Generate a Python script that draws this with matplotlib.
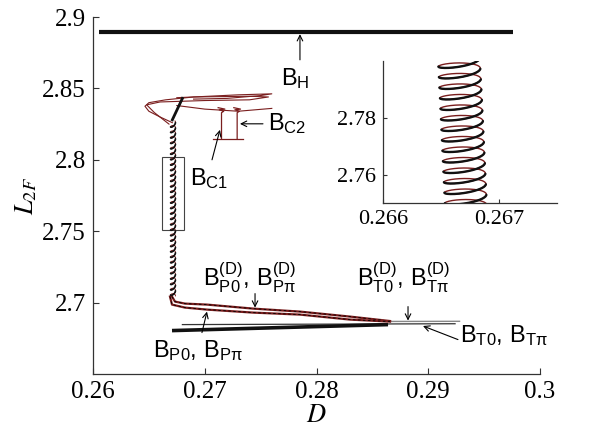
import numpy as np
import matplotlib
matplotlib.use("Agg")
import matplotlib.pyplot as plt
from matplotlib.patches import Rectangle

plt.rcParams['mathtext.fontset'] = 'custom'
plt.rcParams['mathtext.rm'] = 'Liberation Sans'
plt.rcParams['mathtext.it'] = 'Liberation Sans'
plt.rcParams['mathtext.bf'] = 'Liberation Sans:bold'

# ---------------- data ----------------
# B_H branch
BH_D = [0.2605, 0.2976]
BH_L = [2.8895, 2.8895]
# thick black B_P0 / B_Ppi branch
BP_D = [0.26707, 0.2864]
BP_L = [2.6804, 2.6846]
# thin lines B_T0, B_T0^(D)
BT_D = [0.2680, 0.2924]
BT_L = [2.6846, 2.6852]
BTD_D = [0.2866, 0.2928]
BTD_L = [2.6868, 2.6869]
# helix (twisted torus branch) in main panel
helix_L = [2.704, 2.826]
helix_D = [0.26716, 0.26716]
helix_halfwidth = 0.00022
helix_halfheight = 0.0013
helix_tilt = 0.0006
helix_pitch = 0.0038
# helix as seen in inset
inset_helix_L = [2.745, 2.805]
inset_helix_D = [0.26672, 0.26665]
inset_halfwidth = 0.00018
inset_halfheight = 0.0016
inset_tilt = 0.0006
inset_pitch = 0.0037
# tail of the helix (two strands) towards the T branch
tailA_D = [0.26707, 0.26734, 0.26823, 0.27020, 0.27432, 0.27852, 0.28300, 0.28658]
tailA_L = [2.7042, 2.7007, 2.6993, 2.6986, 2.6958, 2.6937, 2.6902, 2.6871]
tailB_D = [0.26689, 0.26707, 0.26823, 0.27020, 0.27432, 0.27852, 0.28300, 0.28658]
tailB_L = [2.7042, 2.6986, 2.6965, 2.6951, 2.6930, 2.6916, 2.6881, 2.6867]
# top tangle
loop1_D = [0.2671, 0.2660, 0.2650, 0.26465, 0.2650, 0.2665, 0.2690, 0.2730, 0.2760, 0.2750, 0.2720, 0.2690]
loop1_L = [2.826, 2.830, 2.834, 2.8375, 2.8400, 2.8420, 2.8440, 2.8455, 2.8462, 2.8450, 2.8430, 2.8425]
loop2_D = [0.2668, 0.2655, 0.2648, 0.2660, 0.2700, 0.2740, 0.2757, 0.2740, 0.2690, 0.2675]
loop2_L = [2.825, 2.833, 2.8385, 2.8405, 2.8415, 2.8420, 2.8440, 2.8445, 2.8440, 2.8435]
loop3_D = [0.2675, 0.2700, 0.2730, 0.2760]
loop3_L = [2.8380, 2.8355, 2.8340, 2.8360]
diag_D = [0.2671, 0.2680]
diag_L = [2.828, 2.843]
# B_C2 structure
c2_left_D = [0.2712, 0.2718, 0.2713, 0.2717, 0.2715, 0.2715]
c2_left_L = [2.8365, 2.8355, 2.8350, 2.8340, 2.8330, 2.8150]
c2_right_D = [0.2726, 0.2732, 0.2727, 0.2731, 0.2729, 0.2729]
c2_right_L = [2.8365, 2.8355, 2.8350, 2.8340, 2.8330, 2.8150]
c2_base_D = [0.2707, 0.2734]
c2_base_L = [2.8145, 2.8145]
# zoom box
box_D = [0.26617, 0.26814]
box_L = [2.7510, 2.8021]

xticks = [0.26, 0.27, 0.28, 0.29, 0.3]
xticklabels = ['0.26', '0.27', '0.28', '0.29', '0.3']
yticks = [2.7, 2.75, 2.8, 2.85, 2.9]
yticklabels = ['2.7', '2.75', '2.8', '2.85', '2.9']
inset_xticks = [0.266, 0.267]
inset_yticks = [2.76, 2.78]

RED = '#7a1e1e'

def coil(Lr, Dr, a, b, c, p, n_per_turn=80):
    turns = (Lr[1] - Lr[0]) / p
    t = np.linspace(0, 2*np.pi*turns, int(n_per_turn*turns))
    s = t * p / (2*np.pi)
    cen = Dr[0] + (Dr[1]-Dr[0]) * s / (Lr[1]-Lr[0])
    x = cen + a*np.cos(t)
    y = Lr[0] + s + b*np.sin(t) + c*np.cos(t)
    front = np.sin(t) < 0
    return x, y, front

def draw_coil(axis, Lr, Dr, a, b, c, p, lw_back, lw_front):
    x, y, front = coil(Lr, Dr, a, b, c, p)
    axis.plot(x, y, color=RED, lw=lw_back, solid_capstyle='round')
    axis.plot(x, np.where(front, y, np.nan), color='#111111', lw=lw_front,
              solid_capstyle='round')

fig = plt.figure(figsize=(5.96, 4.29), dpi=100)
ax = fig.add_axes([93/596, 55/429, 447/596, 357/429])

ax.plot(BH_D, BH_L, color='#111111', lw=3.0, solid_capstyle='butt')
ax.plot(BT_D, BT_L, color='#333333', lw=0.9)
ax.plot(BTD_D, BTD_L, color='#888888', lw=1.0)
ax.plot(BP_D, BP_L, color='#111111', lw=2.6, solid_capstyle='butt')

for d, l in [(tailA_D, tailA_L), (tailB_D, tailB_L)]:
    ax.plot(d, l, color=RED, lw=1.6)
    ax.plot(d, l, color='black', lw=0.6, dashes=(3, 3))

draw_coil(ax, helix_L, helix_D, helix_halfwidth, helix_halfheight, helix_tilt,
          helix_pitch, 0.7, 1.2)

for d, l in [(loop1_D, loop1_L), (loop2_D, loop2_L), (loop3_D, loop3_L)]:
    ax.plot(d, l, color=RED, lw=0.8)
ax.plot(diag_D, diag_L, color='#111111', lw=2.0)
for d, l in [(c2_left_D, c2_left_L), (c2_right_D, c2_right_L), (c2_base_D, c2_base_L)]:
    ax.plot(d, l, color=RED, lw=0.9)

ax.add_patch(Rectangle((box_D[0], box_L[0]), box_D[1]-box_D[0], box_L[1]-box_L[0],
                       fill=False, ec='#444444', lw=0.8))

ax.set_xlim(0.26, 0.3)
ax.set_ylim(2.65, 2.9)
ax.set_xticks(xticks)
ax.set_xticklabels(xticklabels)
ax.set_yticks(yticks)
ax.set_yticklabels(yticklabels)
for sp in ['top', 'right']:
    ax.spines[sp].set_visible(False)
for sp in ['left', 'bottom']:
    ax.spines[sp].set_color('#333333')
    ax.spines[sp].set_linewidth(0.9)
ax.tick_params(direction='in', length=4, width=0.8, color='#333333', pad=5,
               labelfontfamily='Liberation Serif', labelsize=18)

ax.text(-0.148, 0.5, r'$L_{2F}$', transform=ax.transAxes, rotation=90,
        ha='center', va='center', fontsize=19, math_fontfamily='stix')
ax.text(0.5, -0.115, r'$D$', transform=ax.transAxes,
        ha='center', va='center', fontsize=19, math_fontfamily='stix')

aprops = dict(arrowstyle='->', color='black', lw=0.8, shrinkA=0, shrinkB=0,
              mutation_scale=10)
FS = 17
def label(txt, xy, xytext, tx, ty):
    ax.annotate('', xy=xy, xytext=xytext, arrowprops=aprops)
    ax.text(tx, ty, txt, fontsize=FS, ha='left', va='baseline')

label(r'$\mathrm{B}_{\mathrm{H}}$', (0.27852, 2.8880), (0.27852, 2.8700), 0.27682, 2.8524)
label(r'$\mathrm{B}_{\mathrm{C2}}$', (0.27315, 2.8252), (0.27521, 2.8252), 0.27566, 2.8210)
label(r'$\mathrm{B}_{\mathrm{C1}}$', (0.27136, 2.8210), (0.27065, 2.8000), 0.26868, 2.7825)
label(r'$\mathrm{B}^{(\mathrm{D})}_{\mathrm{P0}},\, \mathrm{B}^{(\mathrm{D})}_{\mathrm{P}\pi}$',
      (0.27450, 2.6965), (0.27450, 2.7063), 0.26984, 2.7115)
label(r'$\mathrm{B}_{\mathrm{P0}},\, \mathrm{B}_{\mathrm{P}\pi}$',
      (0.27020, 2.6937), (0.26975, 2.6790), 0.26537, 2.6615)
label(r'$\mathrm{B}^{(\mathrm{D})}_{\mathrm{T0}},\, \mathrm{B}^{(\mathrm{D})}_{\mathrm{T}\pi}$',
      (0.28819, 2.6874), (0.28819, 2.6972), 0.28362, 2.7112)
label(r'$\mathrm{B}_{\mathrm{T0}},\, \mathrm{B}_{\mathrm{T}\pi}$',
      (0.28953, 2.6836), (0.29266, 2.6741), 0.29284, 2.6720)

# inset
axi = fig.add_axes([383/596, (429-203)/429, 174/596, 142/429])
axi.patch.set_alpha(0)
draw_coil(axi, inset_helix_L, inset_helix_D, inset_halfwidth, inset_halfheight,
          inset_tilt, inset_pitch, 1.0, 1.7)
axi.set_xlim(0.266, 0.2675)
axi.set_ylim(2.75, 2.80)
axi.set_xticks(inset_xticks)
axi.set_xticklabels(['0.266', '0.267'])
axi.set_yticks(inset_yticks)
axi.set_yticklabels(['2.76', '2.78'])
for sp in ['top', 'right']:
    axi.spines[sp].set_visible(False)
for sp in ['left', 'bottom']:
    axi.spines[sp].set_color('#333333')
    axi.spines[sp].set_linewidth(0.9)
axi.tick_params(direction='in', length=3, width=0.8, color='#333333', pad=5,
                labelfontfamily='Liberation Serif', labelsize=16)

fig.savefig('out.png', dpi=100)
